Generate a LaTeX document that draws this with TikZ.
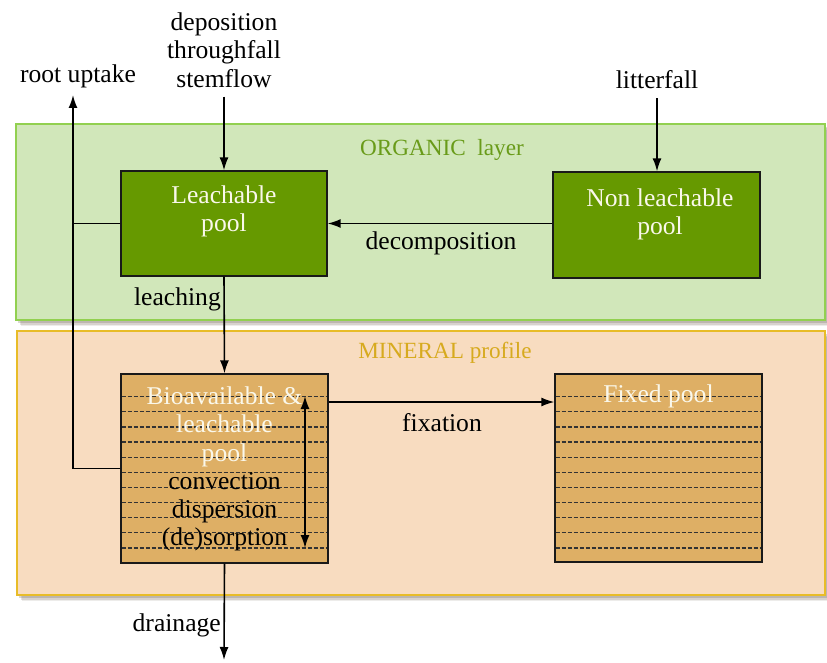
\documentclass[tikz,border=0pt]{standalone}
\usepackage{fontspec}
\setmainfont{Liberation Serif}
\usetikzlibrary{arrows.meta,shadows,calc}
\definecolor{orgfill}{RGB}{209,231,186}
\definecolor{orgline}{RGB}{146,208,80}
\definecolor{orgtext}{RGB}{105,155,25}
\definecolor{minfill}{RGB}{248,220,192}
\definecolor{minline}{RGB}{232,188,40}
\definecolor{mintext}{RGB}{215,170,30}
\definecolor{greenbox}{RGB}{102,153,0}
\definecolor{poolbox}{RGB}{222,175,101}
\definecolor{boxtext}{RGB}{250,248,235}
\definecolor{shadowc}{RGB}{110,95,80}
\tikzset{
  layer/.style={draw, line width=1.2pt,
    drop shadow={shadow xshift=5pt, shadow yshift=-6pt, opacity=0.12, fill=shadowc},
    drop shadow={shadow xshift=3.5pt, shadow yshift=-4.5pt, opacity=0.18, fill=shadowc},
    drop shadow={shadow xshift=2pt, shadow yshift=-3pt, opacity=0.25, fill=shadowc}},
  gbox/.style={draw=black!90, line width=1.3pt, fill=greenbox, inner sep=0},
  pbox/.style={draw=black!90, line width=1.3pt, fill=poolbox, inner sep=0},
  txt/.style={inner sep=0, align=center, font=\fontsize{25.6}{28.3}\selectfont},
  ltxt/.style={inner sep=0, align=center, font=\fontsize{23.2}{28}\selectfont},
  flow/.style={line width=1.6pt, -{Latex[length=13pt,width=9pt]}},
  plain/.style={line width=1.6pt},
  dl/.style={line width=1.2pt, draw=black!80, dash pattern=on 4pt off 2pt},
}
\begin{document}
\begin{tikzpicture}[x=1pt,y=-1pt]
\useasboundingbox (0,0) rectangle (827,663);
% layers
\node[layer, draw=orgline, fill=orgfill, minimum width=809pt, minimum height=196pt, inner sep=0] (org) at (420.5,222) {};
\node[layer, draw=minline, fill=minfill, minimum width=808pt, minimum height=264pt, inner sep=0] (min) at (421,463) {};
\node[ltxt, text=orgtext] (orgt) at (442,150) {ORGANIC\ \ layer};
\node[ltxt, text=mintext] (mint) at (445,353) {MINERAL profile};
% organic boxes
\node[gbox, minimum width=206pt, minimum height=105pt] (leach) at (224,223.5) {};
\node[txt, text=boxtext] (leacht) at (224,211) {Leachable\\pool};
\node[gbox, minimum width=207pt, minimum height=106pt] (nl) at (656.5,225) {};
\node[txt, text=boxtext] (nlt) at (660,214) {Non leachable\\pool};
% mineral boxes
\node[pbox, minimum width=207pt, minimum height=189pt] (bio) at (224.5,468.5) {};
\node[pbox, minimum width=207pt, minimum height=188pt] (fix) at (658.5,468) {};
\foreach \i in {0,...,10} {
  \pgfmathsetmacro\yy{396.7+15.13*\i}
  \draw[dl] (121.7,\yy) -- (327.3,\yy);
  \draw[dl] (555.7,\yy) -- (761.3,\yy);
}
\node[txt] (biot) at (224.5,469) {{\color{boxtext}Bioavailable \&}\\{\color{boxtext}leachable}\\{\color{boxtext}pool}\\convection\\dispersion\\(de)sorption};
\node[txt, text=boxtext] (fixt) at (658.5,396) {Fixed pool};
% outside labels
\node[txt] (dep) at (224,50) {deposition\\throughfall\\stemflow};
\node[txt] (lit) at (657,80) {litterfall};
\node[txt] (rut) at (78,76) {root uptake};
\node[txt, anchor=east] (lch) at (221,299) {leaching};
\node[txt] (dec) at (441,243) {decomposition};
\node[txt] (fxl) at (442,423) {fixation};
\node[txt, anchor=east] (drn) at (221,625) {drainage};
% connectors
\coordinate (ru) at (73,95);
\coordinate (j1) at (73,223.5);
\coordinate (j2) at (73,468.5);
\coordinate (dr) at (224,660);
\coordinate (fy) at (0,402);
\coordinate (da) at (305,396);
\coordinate (db) at (305,548);
\draw[flow, shorten <=9pt] (dep.south) -- (leach.north);
\draw[flow, shorten <=9pt] (lit.south) -- (nl.north -| lit.south);
\draw[flow] (nl.west |- leach.east) -- (leach.east);
\draw[flow] (leach.south) -- (bio.north);
\draw[plain] (leach.west) -- (j1);
\draw[flow] (bio.west) -- (j2) -- (ru);
\draw[flow] (bio.east |- fy) -- (fix.west |- fy);
\draw[flow] (bio.south) -- (dr);
\draw[line width=1.6pt, {Latex[length=13pt,width=9pt]}-{Latex[length=13pt,width=9pt]}] (da) -- (db);
\end{tikzpicture}
\end{document}
